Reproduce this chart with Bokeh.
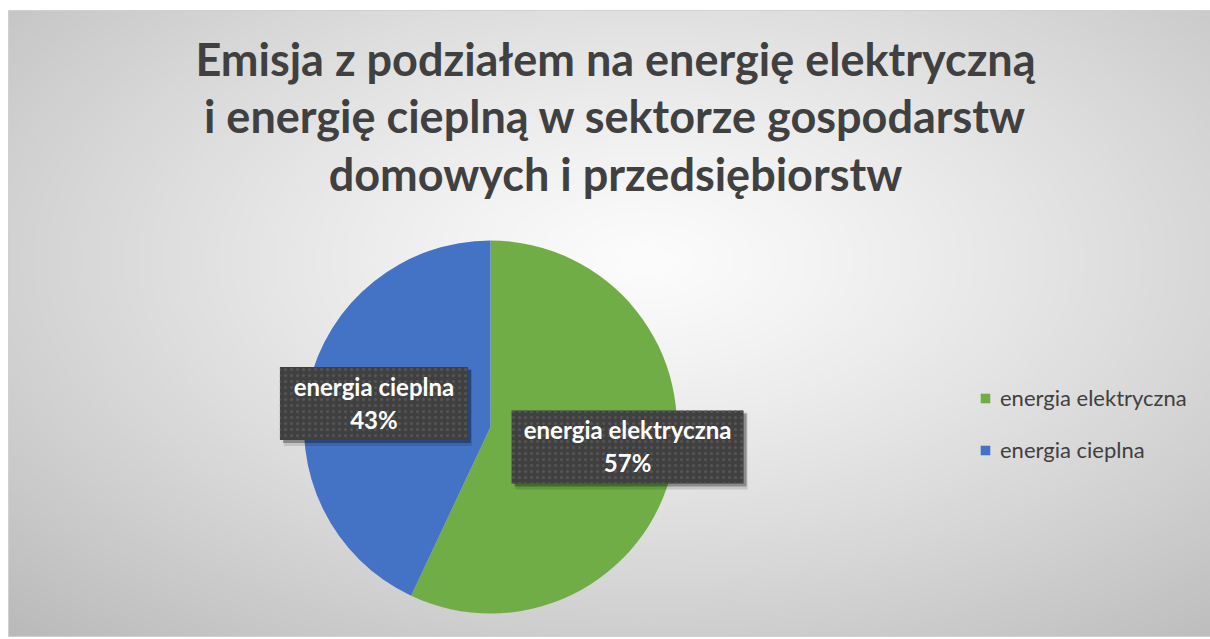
import numpy as np
from bokeh.plotting import figure
from bokeh.models import ColumnDataSource, Range1d, Legend, LegendItem
from bokeh.core.properties import value
from bokeh.embed import file_html
from bokeh.resources import INLINE

# ---- data ----
categories = ["energia elektryczna", "energia cieplna"]
shares = [57, 43]
colors = ["#70AD47", "#4472C4"]
title_lines = ["Emisja z podziałem na energię elektryczną",
               "i energię cieplną w sektorze gospodarstw",
               "domowych i przedsiębiorstw"]

W, H = 1210, 639
FONT = "Lato"

p = figure(width=W, height=H, x_range=Range1d(0, W), y_range=Range1d(0, H),
           output_backend="svg", toolbar_location=None, min_border=0,
           background_fill_color="white", border_fill_color="white",
           outline_line_color=None)
p.axis.visible = False
p.grid.visible = False

# ---- radial gradient background (styling) ----
bx0, bx1, by0, by1 = 8, W, 3, 629
nx, ny = 601, 313
xs = np.linspace(bx0, bx1, nx)
ys = np.linspace(by0, by1, ny)
X, Y = np.meshgrid(xs, ys)
cx_s, cy_s = 645.0, 639 - 260.0
r = np.sqrt(((X - cx_s) / 600.0) ** 2 + ((Y - cy_s) / 330.0) ** 2)
g = np.clip(252 - 39 * r ** 1.2, 0, 255).astype(np.uint32)
img = (255 << 24) | (g << 16) | (g << 8) | g
p.image_rgba(image=[img.astype(np.uint32)], x=bx0, y=by0, dw=bx1 - bx0, dh=by1 - by0)
p.rect(x=(bx0 + bx1) / 2, y=(by0 + by1) / 2, width=bx1 - bx0, height=by1 - by0,
       fill_color=None, line_color="#d0d0d0", line_width=1)

# ---- title ----
p.text(x=[615] * 3, y=[581, 524, 466], text=title_lines,
       text_font=value(FONT), text_font_style="bold", text_font_size="45px",
       text_color="#404040", text_align="center", text_baseline="alphabetic")

# ---- pie ----
total = float(sum(shares))
fracs = [s / total for s in shares]
cum = np.cumsum([0] + fracs)
start = [np.pi / 2 - 2 * np.pi * c for c in cum[:-1]]
end = [np.pi / 2 - 2 * np.pi * c for c in cum[1:]]
pcx, pcy, R = 490.0, 212.5, 186.5
src = ColumnDataSource(dict(cat=categories, val=shares, color=colors,
                            start=start, end=end))
wr = p.wedge(x=pcx, y=pcy, radius=R, start_angle="start", end_angle="end",
             direction="clock", fill_color="color", line_color=None, source=src)

# ---- data labels ----
label_dx = [0.735, -0.625]   # label anchor offsets in units of the radius
label_dy = [-0.107, 0.126]
box_w = [232, 188]
box_h = 73
lx = [pcx + d * R for d in label_dx]
ly = [pcy + d * R for d in label_dy]
pct = [f"{round(f * 100)}%" for f in fracs]
lsrc = ColumnDataSource(dict(x=lx, y=ly, w=box_w, name=categories, pct=pct,
                             sx=[v + 3 for v in lx], sy=[v - 3 for v in ly],
                             sx2=[v + 4 for v in lx], sy2=[v - 4 for v in ly],
                             ny=[v + 17 for v in ly], py=[v - 16 for v in ly]))
p.rect(x="sx2", y="sy2", width="w", height=box_h + 4, fill_color="black",
       fill_alpha=0.12, line_color=None, source=lsrc)
p.rect(x="sx", y="sy", width="w", height=box_h, fill_color="black",
       fill_alpha=0.3, line_color=None, source=lsrc)
p.rect(x="x", y="y", width="w", height=box_h, fill_color="#404040",
       line_color=None, hatch_pattern="dot", hatch_color="#555555",
       hatch_scale=6, hatch_weight=2, source=lsrc)
p.text(x="x", y="ny", text="name", source=lsrc, text_font=value(FONT),
       text_font_style="bold", text_font_size="24px", text_color="white",
       text_align="center", text_baseline="alphabetic")
p.text(x="x", y="py", text="pct", source=lsrc, text_font=value(FONT),
       text_font_style="bold", text_font_size="24px", text_color="white",
       text_align="center", text_baseline="alphabetic")

# ---- legend ----
legend = Legend(items=[LegendItem(label=categories[i], renderers=[wr], index=i)
                       for i in range(len(categories))],
                location=(979, 176), orientation="vertical",
                background_fill_alpha=0, border_line_color=None,
                label_text_font=FONT, label_text_font_size="22px",
                label_text_color="#404040", glyph_width=12, glyph_height=12,
                label_height=22, spacing=25, padding=0, margin=0,
                label_standoff=9)
p.add_layout(legend, "center")

open("out.html", "w").write(file_html(p, INLINE))
